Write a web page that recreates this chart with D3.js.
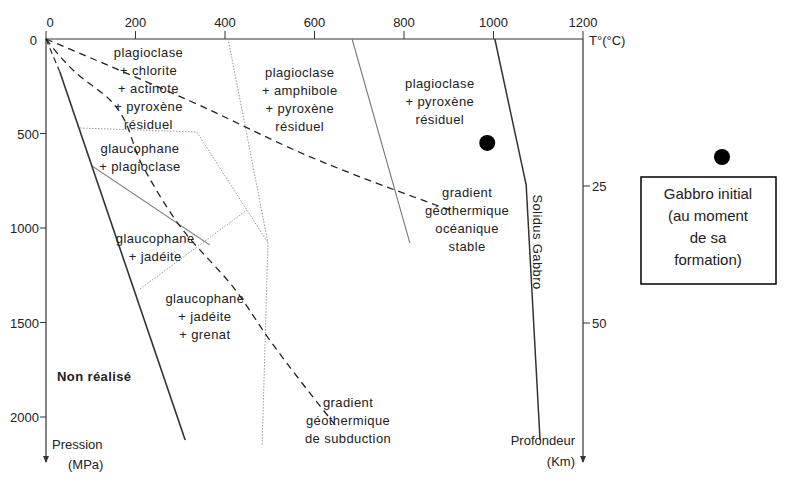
<!DOCTYPE html><html><head><meta charset="utf-8">
<script src="https://cdn.jsdelivr.net/npm/d3@7/dist/d3.min.js"></script>
<style>body{margin:0;background:#fff}text{font-family:Arial,"Liberation Sans",sans-serif;fill:#222}</style></head><body>
<svg id="c" width="800" height="489"></svg>
<script>
const tempTicks=[0,200,400,600,800,1000,1200];
const pressTicks=[500,1000,1500,2000];
const depthTicks=[25,50];
// boundaries as [T(°C), P(MPa)]
const nonRealise=[[31,175],[311,2122]];
const nonRealiseTop=[[0,0],[31,175]];
const subduction=[[0,0],[65,175],[143,323],[217,677],[306,1011],[418,1312],[500,1593],[646,2042]];
const oceanique=[[0,0],[322,328],[612,645],[914,915]];
const dotted1=[[407,0],[496,1079],[483,2148]];
const dotted2=[[76,471],[337,492],[449,905],[496,1079]];
const dotted3=[[210,2000*0+1323],[449,905]];
const grayLine=[[103,672],[366,1090]];
const amphLine=[[684,0],[813,1079]];
const solidus=[[1003,0],[1073,772],[1104,2122]];
const gabbro=[[986,550]];
const labels=[
 {t:["plagioclase","+ chlorite","+ actinote","+ pyroxène","résiduel"],T:229,P:68},
 {t:["plagioclase","+ amphibole","+ pyroxène","résiduel"],T:567,P:175},
 {t:["plagioclase","+ pyroxène","résiduel"],T:880,P:233},
 {t:["glaucophane","+ plagioclase"],T:210,P:577},
 {t:["glaucophane","+ jadéite"],T:244,P:1053},
 {t:["glaucophane","+ jadéite","+ grenat"],T:355,P:1370},
 {t:["gradient","géothermique","océanique","stable"],T:941,P:810},
 {t:["gradient","géothermique","de subduction"],T:675,P:1921}
];
const svg=d3.select("#c");
const x=d3.scaleLinear().domain([0,1200]).range([46,583]);
const y=d3.scaleLinear().domain([0,2000]).range([39,417]);
const yk=d3.scaleLinear().domain([0,50]).range([49,323]);
const ax=svg.append("g").attr("font-size",13);
// top axis
ax.append("line").attr("x1",46).attr("x2",583).attr("y1",39).attr("y2",39).attr("stroke","#333").attr("stroke-width",1.2);
tempTicks.forEach(v=>{
 ax.append("line").attr("x1",x(v)).attr("x2",x(v)).attr("y1",39).attr("y2",31).attr("stroke","#333");
 ax.append("text").attr("x",x(v)+(v==0?4:0)).attr("y",27).attr("text-anchor","middle").attr("font-size",13).text(v);
});
ax.append("text").attr("x",589).attr("y",45).attr("font-size",13).text("T°(°C)");
ax.append("text").attr("x",37).attr("y",45).attr("text-anchor","end").attr("font-size",13).text("0");
// arrows
svg.append("defs").append("marker").attr("id","ar").attr("viewBox","0 0 10 10").attr("refX",5).attr("refY",10).attr("markerWidth",5).attr("markerHeight",6).attr("orient","auto-start-reverse")
 .append("path").attr("d","M0,0L5,10L10,0Z").attr("fill","#333");
ax.append("line").attr("x1",46).attr("x2",46).attr("y1",39).attr("y2",462).attr("stroke","#333").attr("stroke-width",1.2);
ax.append("path").attr("d","M43,456L46,463L49,456Z").attr("fill","#333");
ax.append("line").attr("x1",583).attr("x2",583).attr("y1",39).attr("y2",462).attr("stroke","#333").attr("stroke-width",1.2);
ax.append("path").attr("d","M580,456L583,463L586,456Z").attr("fill","#333");
pressTicks.forEach(v=>{
 ax.append("line").attr("x1",40).attr("x2",46).attr("y1",y(v)).attr("y2",y(v)).attr("stroke","#333");
 ax.append("text").attr("x",39).attr("y",y(v)+5).attr("text-anchor","end").text(v);
});
depthTicks.forEach(v=>{
 ax.append("line").attr("x1",583).attr("x2",590).attr("y1",yk(v)).attr("y2",yk(v)).attr("stroke","#333");
 ax.append("text").attr("x",592).attr("y",yk(v)+5).text(v);
});
ax.append("text").attr("x",52).attr("y",449).text("Pression");
ax.append("text").attr("x",68).attr("y",469).text("(MPa)");
ax.append("text").attr("x",575).attr("y",445).attr("text-anchor","end").text("Profondeur");
ax.append("text").attr("x",575).attr("y",466).attr("text-anchor","end").text("(Km)");
const line=d3.line().x(d=>x(d[0])).y(d=>y(d[1]));
const cl=d3.line().x(d=>x(d[0])).y(d=>y(d[1])).curve(d3.curveMonotoneY);
function draw(d,stroke,w,dash,gen){svg.append("path").attr("d",(gen||line)(d)).attr("fill","none").attr("stroke",stroke).attr("stroke-width",w).attr("stroke-dasharray",dash||null);}
draw(dotted1,"#999",1,"1.5,1.5");
draw(dotted2,"#999",1,"1.5,1.5");
draw(dotted3,"#999",1,"1.5,1.5");
draw(grayLine,"#888",1.1);
draw(amphLine,"#777",1.1);
draw(nonRealise,"#333",1.6);
draw(nonRealiseTop,"#333",1.3,"6,4");
draw(subduction,"#222",1.3,"7,5",cl);
draw(oceanique,"#222",1.3,"7,5",cl);
draw(solidus,"#333",1.5);
// labels
const lg=svg.append("g").attr("font-size",13).attr("letter-spacing","0.4").attr("text-anchor","middle");
labels.forEach(l=>{l.t.forEach((s,i)=>lg.append("text").attr("x",x(l.T)).attr("y",y(l.P)+i*18+5).text(s));});
svg.append("text").attr("x",57).attr("y",381).attr("font-size",13).attr("font-weight","bold").attr("letter-spacing","0.4").text("Non réalisé");
svg.append("text").attr("transform","translate(533,242) rotate(90)").attr("text-anchor","middle").attr("font-size",13).attr("letter-spacing","0.4").text("Solidus Gabbro");
gabbro.forEach(d=>svg.append("circle").attr("cx",x(d[0])).attr("cy",y(d[1])).attr("r",8).attr("fill","#000"));
// legend
svg.append("circle").attr("cx",722).attr("cy",157).attr("r",8).attr("fill","#000");
svg.append("rect").attr("x",641).attr("y",177).attr("width",135).attr("height",107).attr("fill","none").attr("stroke","#000").attr("stroke-width",1.5);
["Gabbro initial","(au moment","de sa","formation)"].forEach((s,i)=>svg.append("text").attr("x",708).attr("y",199+i*22).attr("text-anchor","middle").attr("font-size",15).text(s));
</script></body></html>
